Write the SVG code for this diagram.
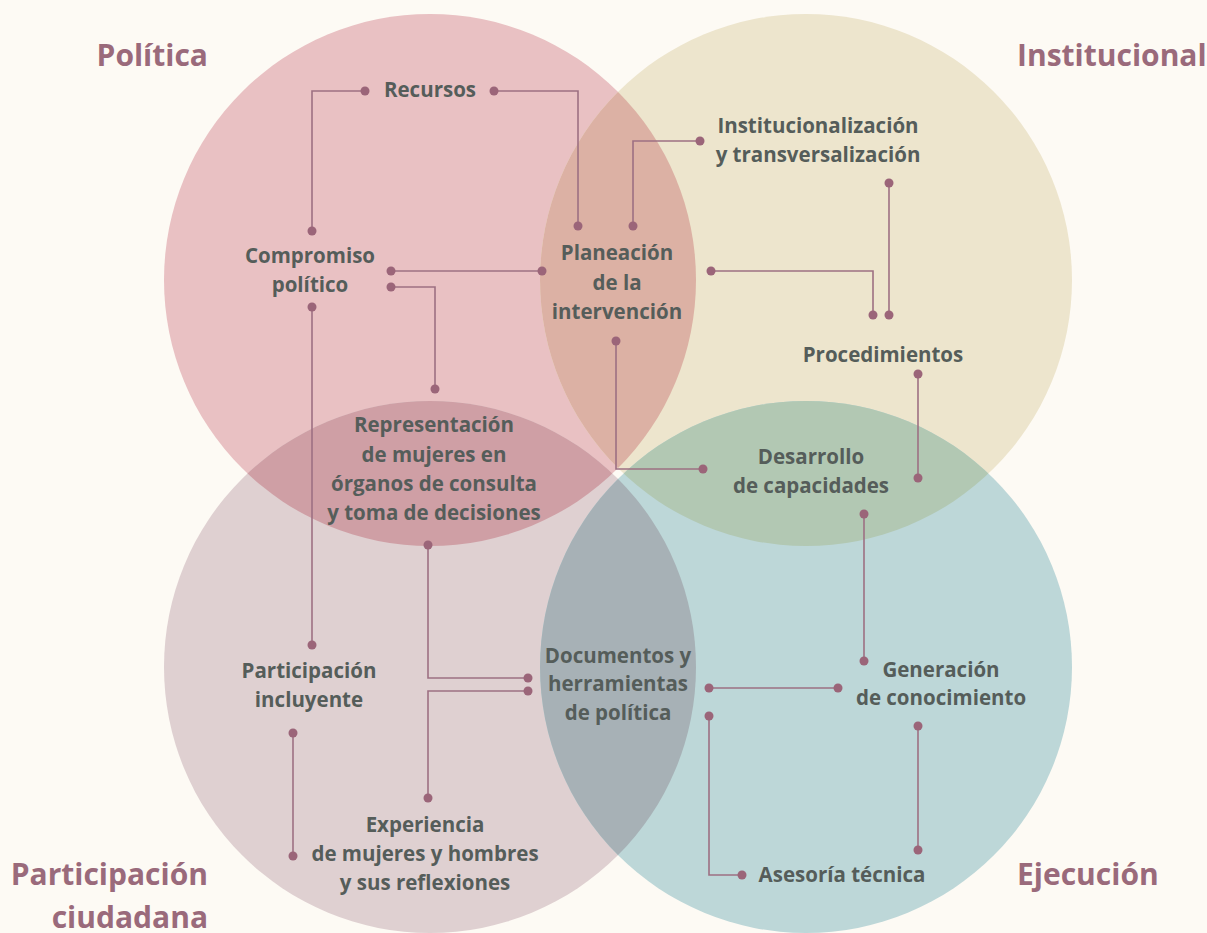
<svg xmlns="http://www.w3.org/2000/svg" width="1207" height="933" viewBox="0 0 1207 933">
<style>
.bg{fill:#fdfaf4}
.lbl{font-family:"Open Sans","Noto Sans","Liberation Sans",sans-serif;font-weight:700;font-size:20.5px;fill:#555d5a;text-anchor:middle}
.ttl{font-family:"Open Sans","Noto Sans","Liberation Sans",sans-serif;font-weight:700;font-size:30px;fill:#9a6a7b}
.ln{fill:none;stroke:#9d7083;stroke-width:1.6}
.dot{fill:#9b6579}
</style>
<defs>
<clipPath id="clipA"><circle cx="430" cy="280" r="266"/></clipPath>
<clipPath id="clipB"><circle cx="806" cy="280" r="266"/></clipPath>
<clipPath id="clipD"><circle cx="806" cy="667" r="266"/></clipPath>
</defs>
<rect class="bg" x="0" y="0" width="1207" height="933"/>
<g id="circles">
<circle cx="430" cy="280" r="266" fill="#e9c1c3"/>
<circle cx="806" cy="280" r="266" fill="#ede5cd"/>
<circle cx="430" cy="667" r="266" fill="#dfd0d1"/>
<circle cx="806" cy="667" r="266" fill="#bdd7d8"/>
<circle cx="806" cy="280" r="266" fill="#dcb1a4" clip-path="url(#clipA)"/>
<circle cx="430" cy="667" r="266" fill="#cf9fa5" clip-path="url(#clipA)"/>
<circle cx="806" cy="667" r="266" fill="#b2c8b3" clip-path="url(#clipB)"/>
<circle cx="430" cy="667" r="266" fill="#a7b1b6" clip-path="url(#clipD)"/>
</g>
<g id="titles">
<text class="ttl" x="208" y="66" text-anchor="end">Política</text>
<text class="ttl" x="1017" y="66">Institucional</text>
<text class="ttl" x="208" y="885" text-anchor="end">Participación</text>
<text class="ttl" x="208" y="928" text-anchor="end">ciudadana</text>
<text class="ttl" x="1017" y="885">Ejecución</text>
</g>
<g id="connectors">
<polyline class="ln" points="365,91 312,91 312,231"/>
<polyline class="ln" points="494,91 578,91 578,226"/>
<polyline class="ln" points="391,271 542,271"/>
<polyline class="ln" points="391,287 435,287 435,389"/>
<polyline class="ln" points="312,307 312,645"/>
<polyline class="ln" points="633,226 633,141 700,141"/>
<polyline class="ln" points="711,271 873,271 873,315"/>
<polyline class="ln" points="889,183 889,315"/>
<polyline class="ln" points="616,341 616,469 703,469"/>
<polyline class="ln" points="918,374 918,478"/>
<polyline class="ln" points="864,514 864,661"/>
<polyline class="ln" points="838,688 709,688"/>
<polyline class="ln" points="918,726 918,850"/>
<polyline class="ln" points="528,678 428,678 428,545"/>
<polyline class="ln" points="528,691 428,691 428,798"/>
<polyline class="ln" points="709,716 709,875 742,875"/>
<polyline class="ln" points="293,733 293,856"/>
</g>
<g id="dots">
<circle class="dot" cx="365" cy="91" r="4.5"/><circle class="dot" cx="312" cy="231" r="4.5"/>
<circle class="dot" cx="494" cy="91" r="4.5"/><circle class="dot" cx="578" cy="226" r="4.5"/>
<circle class="dot" cx="391" cy="271" r="4.5"/><circle class="dot" cx="542" cy="271" r="4.5"/>
<circle class="dot" cx="391" cy="287" r="4.5"/><circle class="dot" cx="435" cy="389" r="4.5"/>
<circle class="dot" cx="312" cy="307" r="4.5"/><circle class="dot" cx="312" cy="645" r="4.5"/>
<circle class="dot" cx="633" cy="226" r="4.5"/><circle class="dot" cx="700" cy="141" r="4.5"/>
<circle class="dot" cx="711" cy="271" r="4.5"/><circle class="dot" cx="873" cy="315" r="4.5"/>
<circle class="dot" cx="889" cy="183" r="4.5"/><circle class="dot" cx="889" cy="315" r="4.5"/>
<circle class="dot" cx="616" cy="341" r="4.5"/><circle class="dot" cx="703" cy="469" r="4.5"/>
<circle class="dot" cx="918" cy="374" r="4.5"/><circle class="dot" cx="918" cy="478" r="4.5"/>
<circle class="dot" cx="864" cy="514" r="4.5"/><circle class="dot" cx="864" cy="661" r="4.5"/>
<circle class="dot" cx="838" cy="688" r="4.5"/><circle class="dot" cx="709" cy="688" r="4.5"/>
<circle class="dot" cx="918" cy="726" r="4.5"/><circle class="dot" cx="918" cy="850" r="4.5"/>
<circle class="dot" cx="528" cy="678" r="4.5"/><circle class="dot" cx="428" cy="545" r="4.5"/>
<circle class="dot" cx="528" cy="691" r="4.5"/><circle class="dot" cx="428" cy="798" r="4.5"/>
<circle class="dot" cx="709" cy="716" r="4.5"/><circle class="dot" cx="742" cy="875" r="4.5"/>
<circle class="dot" cx="293" cy="733" r="4.5"/><circle class="dot" cx="293" cy="856" r="4.5"/>
</g>
<g id="recursos"><text class="lbl" x="430" y="97">Recursos</text></g>
<g id="compromiso"><text class="lbl" x="310" y="263">Compromiso</text><text class="lbl" x="310" y="292">político</text></g>
<g id="planeacion"><text class="lbl" x="617" y="260">Planeación</text><text class="lbl" x="617" y="290">de la</text><text class="lbl" x="617" y="319">intervención</text></g>
<g id="institucionalizacion"><text class="lbl" x="818" y="133">Institucionalización</text><text class="lbl" x="818" y="162">y transversalización</text></g>
<g id="procedimientos"><text class="lbl" x="883" y="362">Procedimientos</text></g>
<g id="representacion"><text class="lbl" x="434" y="432">Representación</text><text class="lbl" x="434" y="462">de mujeres en</text><text class="lbl" x="434" y="491">órganos de consulta</text><text class="lbl" x="434" y="520">y toma de decisiones</text></g>
<g id="desarrollo"><text class="lbl" x="811" y="464">Desarrollo</text><text class="lbl" x="811" y="493">de capacidades</text></g>
<g id="participacion"><text class="lbl" x="309" y="678">Participación</text><text class="lbl" x="309" y="707">incluyente</text></g>
<g id="documentos"><text class="lbl" x="618" y="663">Documentos y</text><text class="lbl" x="618" y="691">herramientas</text><text class="lbl" x="618" y="720">de política</text></g>
<g id="generacion"><text class="lbl" x="941" y="677">Generación</text><text class="lbl" x="941" y="705">de conocimiento</text></g>
<g id="experiencia"><text class="lbl" x="425" y="832">Experiencia</text><text class="lbl" x="425" y="861">de mujeres y hombres</text><text class="lbl" x="425" y="890">y sus reflexiones</text></g>
<g id="asesoria"><text class="lbl" x="842" y="882">Asesoría técnica</text></g>
</svg>
